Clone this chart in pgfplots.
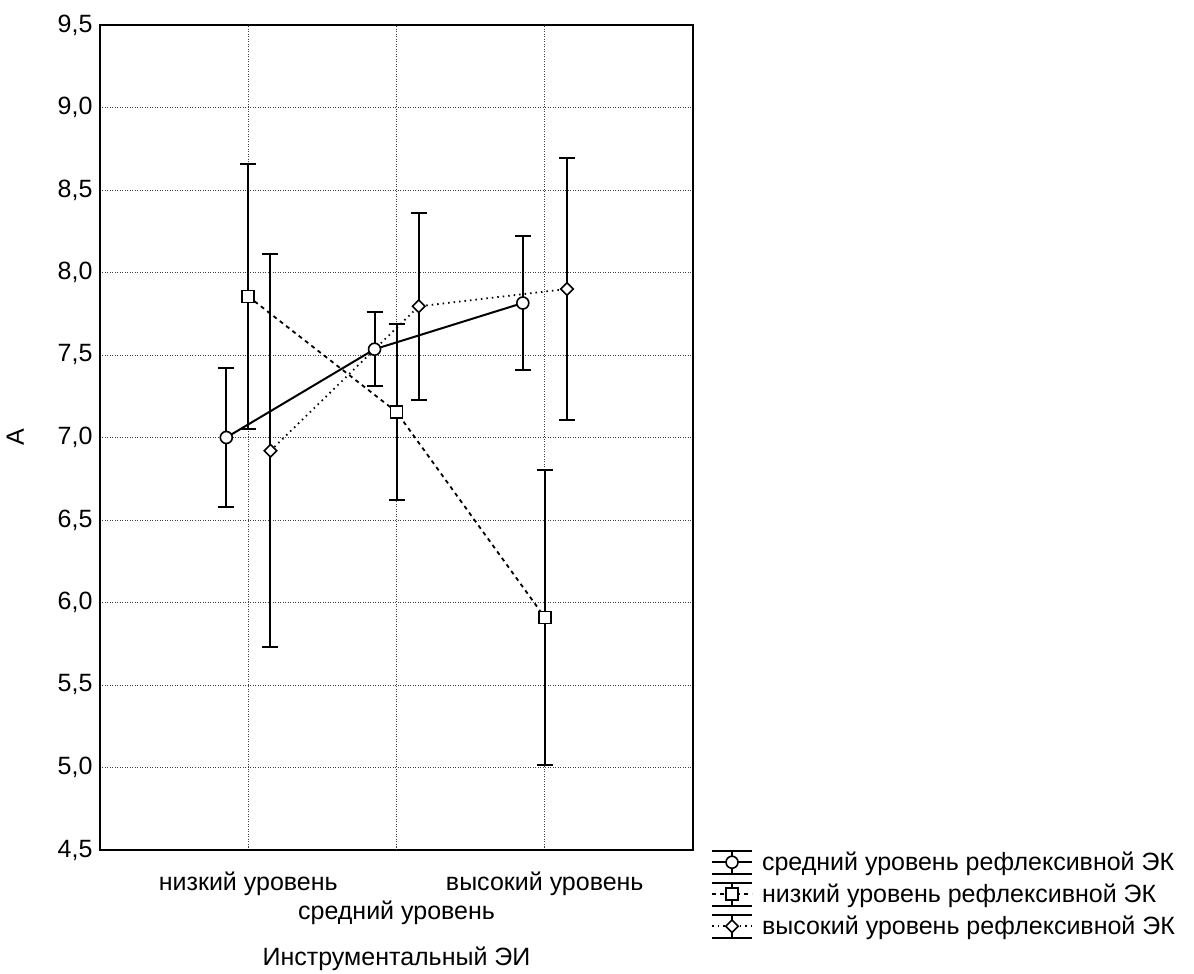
\documentclass[border=0pt]{standalone}
\usepackage{fontspec}
\setmainfont{Liberation Sans}
\usepackage{graphicx}
\usepackage{pgfplots}
\pgfplotsset{compat=1.18}
\begin{document}
\begin{tikzpicture}
\pgfplotsset{
  errstyle/.style={
    error bars/.cd, y dir=both, y explicit,
    error bar style={solid, line width=2pt, black},
    error mark options={rotate=90, mark size=8pt, line width=2pt, solid, black}
  },
  legend image code/.code={
    \draw[solid, line width=1.5pt, black] (0pt,-11.5pt) -- (40pt,-11.5pt) (0pt,11.5pt) -- (40pt,11.5pt) (20pt,-11.5pt) -- (20pt,11.5pt);
    \draw[mark repeat=2, mark phase=2, #1] plot coordinates {(0pt,0pt)(20pt,0pt)(40pt,0pt)};
  }
}
\begin{axis}[
  scale only axis,
  width=593pt, height=825pt,
  xmin=0, xmax=4, ymin=4.5, ymax=9.5,
  xtick={1,3},
  xticklabels={низкий уровень, высокий уровень},
  extra x ticks={2},
  extra x tick labels={средний уровень},
  extra x tick style={grid=major, xticklabel style={yshift=-29pt}},
  ytick={4.5,5,5.5,6,6.5,7,7.5,8,8.5,9,9.5},
  /pgf/number format/fixed,
  /pgf/number format/fixed zerofill,
  /pgf/number format/precision=1,
  /pgf/number format/use comma,
  /pgf/number format/assume math mode=true,
  grid=major,
  major grid style={black!75, line width=0.8pt, dash pattern=on 1pt off 1.5pt},
  axis line style={line width=1.8pt},
  major tick length=0pt,
  font=\fontsize{25}{25}\selectfont,
  xticklabel style={anchor=center, yshift=-34pt},
  yticklabel style={anchor=east, xshift=-4pt},
  xlabel={Инструментальный ЭИ},
  xlabel style={at={(axis description cs:0.5,-0.1315)}, anchor=center},
  clip=false,
  legend style={at={(axis description cs:1.0304,0.0)}, anchor=north west, draw=none, fill=none,
    inner sep=0pt, outer sep=0pt, font=\fontsize{25}{25}\selectfont, row sep=7.5pt,
    legend cell align=left, nodes={inner sep=0pt},
    /tikz/every odd column/.append style={column sep=9pt}},
]
\addplot[black, line width=2pt, solid, mark=*, mark size=6pt, mark options={fill=white, solid, line width=1.6pt}, errstyle]
coordinates {
(0.852,7.000) +- (0,0.420)
(1.852,7.535) +- (0,0.225)
(2.852,7.815) +- (0,0.405)
};
\addlegendentry{средний уровень рефлексивной ЭК}
\addplot[black, line width=1.8pt, dash pattern=on 4pt off 4pt, mark=square*, mark size=6pt, mark options={fill=white, solid, line width=1.6pt}, errstyle]
coordinates {
(1,7.855) +- (0,0.805)
(2,7.155) +- (0,0.535)
(3,5.910) +- (0,0.895)
};
\addlegendentry{низкий уровень рефлексивной ЭК}
\addplot[black, line width=1.8pt, dash pattern=on 1.5pt off 4pt, mark=square*, mark size=4.4pt, mark options={fill=white, solid, rotate=45, line width=1.6pt}, errstyle]
coordinates {
(1.150,6.920) +- (0,1.190)
(2.150,7.795) +- (0,0.565)
(3.150,7.900) +- (0,0.795)
};
\addlegendentry{высокий уровень рефлексивной ЭК}
\node[anchor=center, inner sep=0pt, font=\fontsize{25}{25}\selectfont] at (axis description cs:-0.143,0.5) {\rotatebox{90}{A}};
\end{axis}
\pgfresetboundingbox
\path[use as bounding box] (-100pt,-124pt) rectangle (1094pt,850pt);
\end{tikzpicture}
\end{document}
